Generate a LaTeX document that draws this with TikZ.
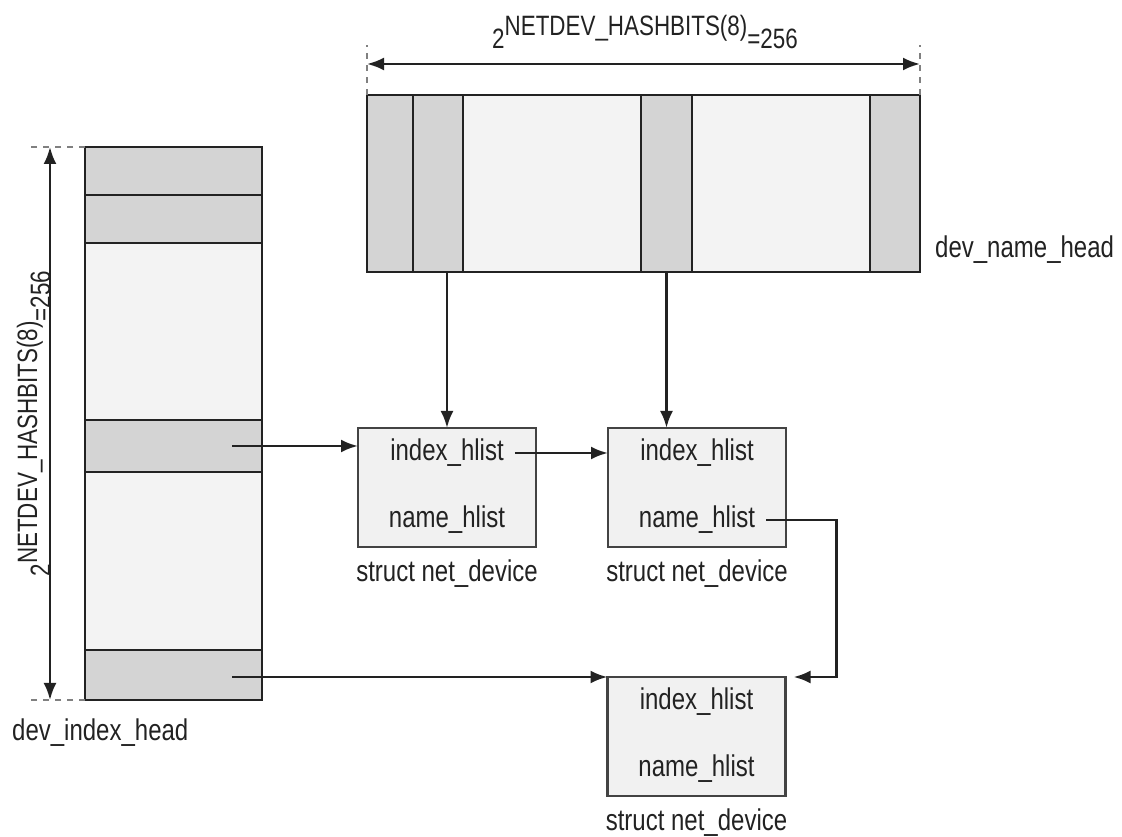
\documentclass[tikz,border=0pt]{standalone}
\usepackage{fontspec}
\setmainfont{Liberation Sans}[FakeStretch=0.8]
\usepackage{tikz}
\usepackage{xcolor}
\usetikzlibrary{arrows.meta, positioning}
\definecolor{ink}{HTML}{222222}
\definecolor{cellgray}{HTML}{D4D4D4}
\definecolor{celllight}{HTML}{F3F3F3}
\definecolor{boxfill}{HTML}{F1F1F1}
\tikzstyle{cellhi}   = [rectangle, draw=ink, line width=2.5pt, fill=cellgray, outer sep=0pt, inner sep=0pt]
\tikzstyle{celllo}   = [rectangle, draw=ink, line width=2.5pt, fill=celllight, outer sep=0pt, inner sep=0pt]
\tikzstyle{devbox}   = [rectangle, draw=ink!85, line width=2.5pt, fill=boxfill, outer sep=0pt,
                        minimum width=178pt, minimum height=119pt]
\tikzstyle{lbl}      = [inner sep=0pt, text=ink, font=\fontsize{30}{36}\selectfont]
\tikzstyle{dimlbl}   = [inner sep=0pt, text=ink, font=\fontsize{28}{32}\selectfont]
\tikzstyle{arrow}    = [line width=2.8pt, draw=ink, -{Latex[length=17pt,width=13pt]}]
\tikzstyle{dimarrow} = [line width=2.5pt, draw=ink, {Latex[length=17pt,width=13pt]}-{Latex[length=17pt,width=13pt]}]
\tikzstyle{tick}     = [line width=2pt, draw=gray, dash pattern=on 6pt off 6pt]
\newcommand\hashlabel{2\raisebox{13pt}{NETDEV\_HASHBITS(8)}=256}

\begin{document}
\begin{tikzpicture}[x=1pt, y=1pt]
  \useasboundingbox (0,0) rectangle (1122,837);
  % dev_name_head
  \node (n1) [cellhi, minimum width=46pt, minimum height=177pt, anchor=north west] at (367,742) {};
  \node (n2) [cellhi, minimum width=50pt, minimum height=177pt, right=0pt of n1] {};
  \node (n3) [celllo, minimum width=178pt, minimum height=177pt, right=0pt of n2] {};
  \node (n4) [cellhi, minimum width=51pt, minimum height=177pt, right=0pt of n3] {};
  \node (n5) [celllo, minimum width=178pt, minimum height=177pt, right=0pt of n4] {};
  \node (n6) [cellhi, minimum width=50pt, minimum height=177pt, right=0pt of n5] {};
  \node (namelbl) [lbl, anchor=west] at (935,587) {dev\_name\_head};
  % dev_index_head
  \node (i1) [cellhi, minimum width=177pt, minimum height=48pt, anchor=north west] at (85,690) {};
  \node (i2) [cellhi, minimum width=177pt, minimum height=48pt, below=0pt of i1] {};
  \node (i3) [celllo, minimum width=177pt, minimum height=177pt, below=0pt of i2] {};
  \node (i4) [cellhi, minimum width=177pt, minimum height=52pt, below=0pt of i3] {};
  \node (i5) [celllo, minimum width=177pt, minimum height=178pt, below=0pt of i4] {};
  \node (i6) [cellhi, minimum width=177pt, minimum height=50pt, below=0pt of i5] {};
  \node (indexlbl) [lbl, anchor=west] at (12,104) {dev\_index\_head};
  % sizes
  \draw [tick] (n1.north west) -- ++(0,50);
  \draw [tick] (n6.north east) -- ++(0,50);
  \draw [dimarrow] ([yshift=31]n1.north west) -- ([yshift=31]n6.north east);
  \node (toplbl) [dimlbl, anchor=base] at (645,788) {\hashlabel};
  \draw [tick] (i1.north west) -- ++(-55,0);
  \draw [tick] (i6.south west) -- ++(-55,0);
  \draw [dimarrow] ([xshift=-35]i1.north west) -- ([xshift=-35]i6.south west);
  \node (sidelbl) [dimlbl, rotate=90, anchor=base] at (50,413.5) {\hashlabel};
  % net_device structs
  \node (d1) [devbox] at (447,349.5) {};
  \node (d1i) [lbl] at ([yshift=-25]d1.north) {index\_hlist};
  \node (d1n) [lbl] at ([yshift=27]d1.south) {name\_hlist};
  \node (d1l) [lbl, anchor=base] at ([yshift=-35]d1.south) {struct net\_device};
  \node (d2) [devbox] at (697,349.5) {};
  \node (d2i) [lbl] at ([yshift=-25]d2.north) {index\_hlist};
  \node (d2n) [lbl] at ([yshift=27]d2.south) {name\_hlist};
  \node (d2l) [lbl, anchor=base] at ([yshift=-35]d2.south) {struct net\_device};
  \node (d3) [devbox] at (696.5,100.5) {};
  \node (d3i) [lbl] at ([yshift=-25]d3.north) {index\_hlist};
  \node (d3n) [lbl] at ([yshift=27]d3.south) {name\_hlist};
  \node (d3l) [lbl, anchor=base] at ([yshift=-35]d3.south) {struct net\_device};
  % links
  \draw [arrow] (n2.south -| d1.north) -- (d1.north);
  \draw [arrow] (n4.south) -- (n4.south |- d2.north);
  \draw [arrow] ([xshift=-30]i4.east) -- (i4 -| d1.west);
  \draw [arrow] ([xshift=11]d1i.east) -- (d1i -| d2.west);
  \draw [arrow] ([xshift=11]d2n.east) -- ++(70,0) |- ([xshift=8]d3.north east);
  \draw [arrow] ([xshift=-30]i6.east |- d3.north west) -- (d3.north west);
\end{tikzpicture}
\end{document}
